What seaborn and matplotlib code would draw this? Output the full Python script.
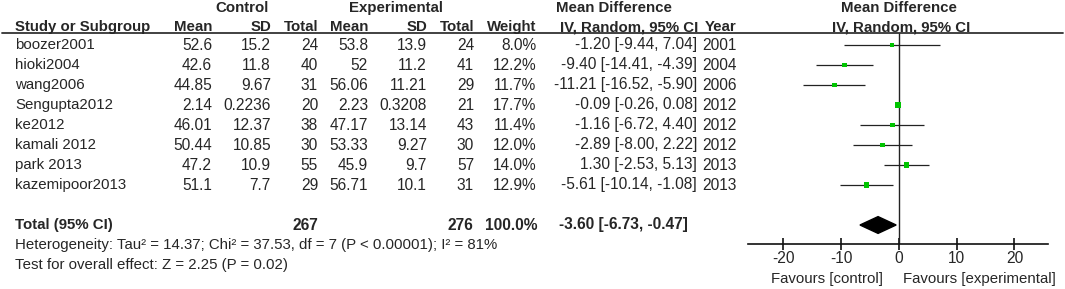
import pandas as pd
import matplotlib.pyplot as plt
import matplotlib.transforms as mtransforms
from matplotlib.lines import Line2D
import seaborn as sns

studies = ['boozer2001', 'hioki2004', 'wang2006', 'Sengupta2012', 'ke2012',
           'kamali 2012', 'park 2013', 'kazemipoor2013']
ctrl_mean = [52.6, 42.6, 44.85, 2.14, 46.01, 50.44, 47.2, 51.1]
ctrl_sd = [15.2, 11.8, 9.67, 0.2236, 12.37, 10.85, 10.9, 7.7]
ctrl_n = [24, 40, 31, 20, 38, 30, 55, 29]
exp_mean = [53.8, 52, 56.06, 2.23, 47.17, 53.33, 45.9, 56.71]
exp_sd = [13.9, 11.2, 11.21, 0.3208, 13.14, 9.27, 9.7, 10.1]
exp_n = [24, 41, 29, 21, 43, 30, 57, 31]
weight = [8.0, 12.2, 11.7, 17.7, 11.4, 12.0, 14.0, 12.9]
md = [-1.20, -9.40, -11.21, -0.09, -1.16, -2.89, 1.30, -5.61]
ci_lo = [-9.44, -14.41, -16.52, -0.26, -6.72, -8.00, -2.53, -10.14]
ci_hi = [7.04, -4.39, -5.90, 0.08, 4.40, 2.22, 5.13, -1.08]
years = [2001, 2004, 2006, 2012, 2012, 2012, 2013, 2013]

total_ctrl, total_exp = 267, 276
total_md, total_lo, total_hi = -3.60, -6.73, -0.47
heterogeneity = 'Heterogeneity: Tau² = 14.37; Chi² = 37.53, df = 7 (P < 0.00001); I² = 81%'
overall = 'Test for overall effect: Z = 2.25 (P = 0.02)'
x_ticks = [-20, -10, 0, 10, 20]

df = pd.DataFrame({'study': studies, 'md': md, 'lo': ci_lo, 'hi': ci_hi,
                   'weight': weight, 'row': range(len(studies))})

sns.set_theme(style='white')
plt.rcParams['font.family'] = ['Liberation Sans', 'DejaVu Sans']
plt.rcParams['font.size'] = 10.8
plt.rcParams['axes.unicode_minus'] = False
NUM = 11.2  # digits in the source render a little wider than the letters

W, H = 1065, 289
fig = plt.figure(figsize=(W / 100, H / 100), dpi=100)


def fx(px):
    return px / W


def fy(py):
    return 1 - py / H


# forest panel
ax = fig.add_axes([fx(748), fy(244), fx(300), 211 / H])
ax.hlines(df['row'], df['lo'], df['hi'], color='#222222', lw=0.9, zorder=2)
sns.scatterplot(data=df, x='md', y='row', size='weight', sizes=(0, 21),
                size_norm=(0, 20), marker='s', color='#00c400', linewidth=0,
                legend=False, ax=ax, zorder=3)
total_row = len(studies) + 1
ax.fill([total_lo, total_md, total_hi, total_md],
        [total_row, total_row - 0.42, total_row, total_row + 0.42],
        color='black', zorder=3)
ax.axvline(0, color='#222222', lw=1, zorder=1)
ax.set_xlim(-26.1, 25.8)
ax.set_ylim(9.95, -0.6)
ax.set_xticks(x_ticks)
ax.set_yticks([])
ax.set(xlabel='', ylabel='')
for s in ['top', 'left', 'right']:
    ax.spines[s].set_visible(False)
ax.spines['bottom'].set_color('#111111')
ax.spines['bottom'].set_linewidth(1.2)
ax.tick_params(axis='x', direction='inout', length=8, width=1.2, pad=1,
               color='#111111', labelsize=NUM, bottom=True)
ax.patch.set_alpha(0)

# header rule
fig.add_artist(Line2D([fx(2), fx(1063)], [fy(33), fy(33)], color='#333333', lw=1.3))

# headers
bold = dict(fontweight='bold', va='center')
fig.text(fx(242), fy(8), 'Control', ha='center', **bold)
fig.text(fx(396), fy(8), 'Experimental', ha='center', **bold)
fig.text(fx(614), fy(8), 'Mean Difference', ha='center', **bold)
fig.text(fx(899), fy(8), 'Mean Difference', ha='center', **bold)
hdr = [(15, 'Study or Subgroup', 'left'), (212, 'Mean', 'right'), (271, 'SD', 'right'),
       (318, 'Total', 'right'), (368, 'Mean', 'right'), (427, 'SD', 'right'),
       (474, 'Total', 'right'), (536, 'Weight', 'right'),
       (698, 'IV, Random, 95% CI', 'right'), (737, 'Year', 'right')]
for x, t, ha in hdr:
    fig.text(fx(x), fy(27), t, ha=ha, **bold)
fig.text(fx(901), fy(27), 'IV, Random, 95% CI', ha='center', **bold)

# table body, rows aligned with the forest rows
tr = mtransforms.blended_transform_factory(fig.transFigure, ax.transData)
for i in range(len(studies)):
    fig.text(fx(15), i, studies[i], ha='left', va='center', transform=tr)
    cells = [(212, f'{ctrl_mean[i]:g}'), (271, f'{ctrl_sd[i]:g}'), (318, f'{ctrl_n[i]}'),
             (368, f'{exp_mean[i]:g}'), (427, f'{exp_sd[i]:g}'), (474, f'{exp_n[i]}'),
             (536, f'{weight[i]:.1f}%'),
             (697, f'{md[i]:.2f} [{ci_lo[i]:.2f}, {ci_hi[i]:.2f}]'),
             (737, f'{years[i]}')]
    for x, t in cells:
        fig.text(fx(x), i, t, ha='right', va='center', fontsize=NUM, transform=tr)

fig.text(fx(15), total_row, 'Total (95% CI)', ha='left', transform=tr, **bold)
tot = [(318, f'{total_ctrl}'), (473, f'{total_exp}'), (537, '100.0%'),
       (688, f'{total_md:.2f} [{total_lo:.2f}, {total_hi:.2f}]')]
for x, t in tot:
    fig.text(fx(x), total_row, t, ha='right', fontsize=NUM, transform=tr, **bold)
fig.text(fx(15), total_row + 1, heterogeneity, ha='left', va='center', transform=tr)
fig.text(fx(15), total_row + 2, overall, ha='left', va='center', transform=tr)

fig.text(fx(883), fy(279), 'Favours [control]', ha='right', va='center')
fig.text(fx(1056), fy(279), 'Favours [experimental]', ha='right', va='center')

fig.savefig('out.png', dpi=100)
